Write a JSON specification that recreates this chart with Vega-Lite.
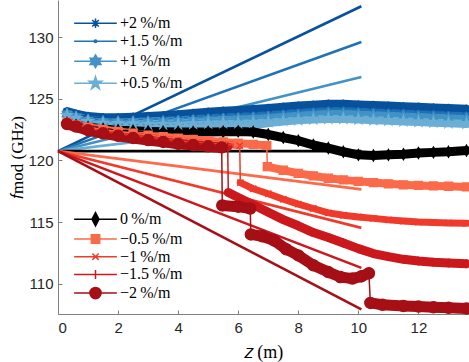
{
"$schema":"https://vega.github.io/schema/vega-lite/v6.json",
"width":410,"height":314,
"autosize":{"type":"none"},
"padding":{"left":58,"top":0,"right":1,"bottom":48},
"background":"white",
"config":{"view":{"stroke":null},
"axis":{"grid":false,"domainColor":"#808080","tickColor":"#808080","tickSize":-4,"labelFont":"Liberation Sans","labelFontSize":15,"labelColor":"#262626","titleFont":"Liberation Serif","titleFontSize":17,"titleFontWeight":"normal","titleColor":"#000000"}},
"datasets":{
"lines":[
{"s":"+2\u2009%/m","z":0,"f":120.75},{"s":"+2\u2009%/m","z":10.1,"f":132.49},
{"s":"+1.5\u2009%/m","z":0,"f":120.75},{"s":"+1.5\u2009%/m","z":10.1,"f":129.59},
{"s":"+1\u2009%/m","z":0,"f":120.75},{"s":"+1\u2009%/m","z":10.1,"f":126.76},
{"s":"+0.5\u2009%/m","z":0,"f":120.75},{"s":"+0.5\u2009%/m","z":10.1,"f":123.7},
{"s":"0\u2009%/m","z":0,"f":120.75},{"s":"0\u2009%/m","z":10.1,"f":120.75},
{"s":"\u22120.5\u2009%/m","z":0,"f":120.75},{"s":"\u22120.5\u2009%/m","z":10.1,"f":117.65},
{"s":"\u22121\u2009%/m","z":0,"f":120.75},{"s":"\u22121\u2009%/m","z":10.1,"f":114.53},
{"s":"\u22121.5\u2009%/m","z":0,"f":120.75},{"s":"\u22121.5\u2009%/m","z":10.1,"f":111.29},
{"s":"\u22122\u2009%/m","z":0,"f":120.75},{"s":"\u22122\u2009%/m","z":10.1,"f":107.92}
],
"curves":[
{"s":"+2\u2009%/m","g":"a","z":0.3,"f":123.95},{"s":"+2\u2009%/m","g":"a","z":0.6,"f":123.75},{"s":"+2\u2009%/m","g":"a","z":1,"f":123.55},{"s":"+2\u2009%/m","g":"a","z":1.5,"f":123.45},{"s":"+2\u2009%/m","g":"a","z":2,"f":123.45},{"s":"+2\u2009%/m","g":"a","z":2.5,"f":123.5},{"s":"+2\u2009%/m","g":"a","z":3,"f":123.55},{"s":"+2\u2009%/m","g":"a","z":3.5,"f":123.62},{"s":"+2\u2009%/m","g":"a","z":4,"f":123.7},{"s":"+2\u2009%/m","g":"a","z":4.5,"f":123.8},{"s":"+2\u2009%/m","g":"a","z":5,"f":123.9},{"s":"+2\u2009%/m","g":"a","z":5.5,"f":123.98},{"s":"+2\u2009%/m","g":"a","z":6,"f":124.05},{"s":"+2\u2009%/m","g":"a","z":6.5,"f":124.12},{"s":"+2\u2009%/m","g":"a","z":7,"f":124.2},{"s":"+2\u2009%/m","g":"a","z":7.5,"f":124.3},{"s":"+2\u2009%/m","g":"a","z":8,"f":124.4},{"s":"+2\u2009%/m","g":"a","z":8.5,"f":124.48},{"s":"+2\u2009%/m","g":"a","z":9,"f":124.55},{"s":"+2\u2009%/m","g":"a","z":9.5,"f":124.55},{"s":"+2\u2009%/m","g":"a","z":10,"f":124.5},{"s":"+2\u2009%/m","g":"a","z":10.5,"f":124.45},{"s":"+2\u2009%/m","g":"a","z":11,"f":124.4},{"s":"+2\u2009%/m","g":"a","z":11.5,"f":124.35},{"s":"+2\u2009%/m","g":"a","z":12,"f":124.3},{"s":"+2\u2009%/m","g":"a","z":12.5,"f":124.25},{"s":"+2\u2009%/m","g":"a","z":13,"f":124.2},{"s":"+2\u2009%/m","g":"a","z":13.6,"f":124.15},
{"s":"+1.5\u2009%/m","g":"a","z":0.3,"f":123.85},{"s":"+1.5\u2009%/m","g":"a","z":0.6,"f":123.63},{"s":"+1.5\u2009%/m","g":"a","z":1,"f":123.4},{"s":"+1.5\u2009%/m","g":"a","z":1.5,"f":123.3},{"s":"+1.5\u2009%/m","g":"a","z":2,"f":123.28},{"s":"+1.5\u2009%/m","g":"a","z":2.5,"f":123.3},{"s":"+1.5\u2009%/m","g":"a","z":3,"f":123.33},{"s":"+1.5\u2009%/m","g":"a","z":3.5,"f":123.37},{"s":"+1.5\u2009%/m","g":"a","z":4,"f":123.42},{"s":"+1.5\u2009%/m","g":"a","z":4.5,"f":123.5},{"s":"+1.5\u2009%/m","g":"a","z":5,"f":123.58},{"s":"+1.5\u2009%/m","g":"a","z":5.5,"f":123.64},{"s":"+1.5\u2009%/m","g":"a","z":6,"f":123.7},{"s":"+1.5\u2009%/m","g":"a","z":6.5,"f":123.75},{"s":"+1.5\u2009%/m","g":"a","z":7,"f":123.82},{"s":"+1.5\u2009%/m","g":"a","z":7.5,"f":123.9},{"s":"+1.5\u2009%/m","g":"a","z":8,"f":124.0},{"s":"+1.5\u2009%/m","g":"a","z":8.5,"f":124.08},{"s":"+1.5\u2009%/m","g":"a","z":9,"f":124.15},{"s":"+1.5\u2009%/m","g":"a","z":9.5,"f":124.15},{"s":"+1.5\u2009%/m","g":"a","z":10,"f":124.1},{"s":"+1.5\u2009%/m","g":"a","z":10.5,"f":124.05},{"s":"+1.5\u2009%/m","g":"a","z":11,"f":124.0},{"s":"+1.5\u2009%/m","g":"a","z":11.5,"f":123.95},{"s":"+1.5\u2009%/m","g":"a","z":12,"f":123.9},{"s":"+1.5\u2009%/m","g":"a","z":12.5,"f":123.85},{"s":"+1.5\u2009%/m","g":"a","z":13,"f":123.8},{"s":"+1.5\u2009%/m","g":"a","z":13.6,"f":123.75},
{"s":"+1\u2009%/m","g":"a","z":0.3,"f":123.75},{"s":"+1\u2009%/m","g":"a","z":0.6,"f":123.53},{"s":"+1\u2009%/m","g":"a","z":1,"f":123.27},{"s":"+1\u2009%/m","g":"a","z":1.5,"f":123.15},{"s":"+1\u2009%/m","g":"a","z":2,"f":123.13},{"s":"+1\u2009%/m","g":"a","z":2.5,"f":123.13},{"s":"+1\u2009%/m","g":"a","z":3,"f":123.13},{"s":"+1\u2009%/m","g":"a","z":3.5,"f":123.15},{"s":"+1\u2009%/m","g":"a","z":4,"f":123.18},{"s":"+1\u2009%/m","g":"a","z":4.5,"f":123.23},{"s":"+1\u2009%/m","g":"a","z":5,"f":123.28},{"s":"+1\u2009%/m","g":"a","z":5.5,"f":123.32},{"s":"+1\u2009%/m","g":"a","z":6,"f":123.35},{"s":"+1\u2009%/m","g":"a","z":6.5,"f":123.4},{"s":"+1\u2009%/m","g":"a","z":7,"f":123.45},{"s":"+1\u2009%/m","g":"a","z":7.5,"f":123.53},{"s":"+1\u2009%/m","g":"a","z":8,"f":123.6},{"s":"+1\u2009%/m","g":"a","z":8.5,"f":123.68},{"s":"+1\u2009%/m","g":"a","z":9,"f":123.75},{"s":"+1\u2009%/m","g":"a","z":9.5,"f":123.75},{"s":"+1\u2009%/m","g":"a","z":10,"f":123.7},{"s":"+1\u2009%/m","g":"a","z":10.5,"f":123.65},{"s":"+1\u2009%/m","g":"a","z":11,"f":123.6},{"s":"+1\u2009%/m","g":"a","z":11.5,"f":123.55},{"s":"+1\u2009%/m","g":"a","z":12,"f":123.5},{"s":"+1\u2009%/m","g":"a","z":12.5,"f":123.45},{"s":"+1\u2009%/m","g":"a","z":13,"f":123.4},{"s":"+1\u2009%/m","g":"a","z":13.6,"f":123.35},
{"s":"+0.5\u2009%/m","g":"a","z":0.3,"f":123.65},{"s":"+0.5\u2009%/m","g":"a","z":0.6,"f":123.42},{"s":"+0.5\u2009%/m","g":"a","z":1,"f":123.17},{"s":"+0.5\u2009%/m","g":"a","z":1.5,"f":123.03},{"s":"+0.5\u2009%/m","g":"a","z":2,"f":123.0},{"s":"+0.5\u2009%/m","g":"a","z":2.5,"f":122.98},{"s":"+0.5\u2009%/m","g":"a","z":3,"f":122.95},{"s":"+0.5\u2009%/m","g":"a","z":3.5,"f":122.94},{"s":"+0.5\u2009%/m","g":"a","z":4,"f":122.95},{"s":"+0.5\u2009%/m","g":"a","z":4.5,"f":122.98},{"s":"+0.5\u2009%/m","g":"a","z":5,"f":123.02},{"s":"+0.5\u2009%/m","g":"a","z":5.5,"f":123.04},{"s":"+0.5\u2009%/m","g":"a","z":6,"f":123.05},{"s":"+0.5\u2009%/m","g":"a","z":6.5,"f":123.1},{"s":"+0.5\u2009%/m","g":"a","z":7,"f":123.15},{"s":"+0.5\u2009%/m","g":"a","z":7.5,"f":123.22},{"s":"+0.5\u2009%/m","g":"a","z":8,"f":123.3},{"s":"+0.5\u2009%/m","g":"a","z":8.5,"f":123.36},{"s":"+0.5\u2009%/m","g":"a","z":9,"f":123.4},{"s":"+0.5\u2009%/m","g":"a","z":9.5,"f":123.4},{"s":"+0.5\u2009%/m","g":"a","z":10,"f":123.35},{"s":"+0.5\u2009%/m","g":"a","z":10.5,"f":123.3},{"s":"+0.5\u2009%/m","g":"a","z":11,"f":123.25},{"s":"+0.5\u2009%/m","g":"a","z":11.5,"f":123.2},{"s":"+0.5\u2009%/m","g":"a","z":12,"f":123.15},{"s":"+0.5\u2009%/m","g":"a","z":12.5,"f":123.1},{"s":"+0.5\u2009%/m","g":"a","z":13,"f":123.05},{"s":"+0.5\u2009%/m","g":"a","z":13.6,"f":123.0},
{"s":"0\u2009%/m","g":"a","z":0.3,"f":123.05},{"s":"0\u2009%/m","g":"a","z":0.6,"f":122.85},{"s":"0\u2009%/m","g":"a","z":1,"f":122.7},{"s":"0\u2009%/m","g":"a","z":1.5,"f":122.55},{"s":"0\u2009%/m","g":"a","z":2,"f":122.45},{"s":"0\u2009%/m","g":"a","z":2.5,"f":122.4},{"s":"0\u2009%/m","g":"a","z":3,"f":122.35},{"s":"0\u2009%/m","g":"a","z":3.5,"f":122.32},{"s":"0\u2009%/m","g":"a","z":4,"f":122.3},{"s":"0\u2009%/m","g":"a","z":4.5,"f":122.3},{"s":"0\u2009%/m","g":"a","z":5,"f":122.3},{"s":"0\u2009%/m","g":"a","z":5.5,"f":122.32},{"s":"0\u2009%/m","g":"a","z":6,"f":122.35},{"s":"0\u2009%/m","g":"a","z":6.5,"f":122.3},{"s":"0\u2009%/m","g":"a","z":7,"f":122.1},{"s":"0\u2009%/m","g":"a","z":7.5,"f":121.85},{"s":"0\u2009%/m","g":"a","z":8,"f":121.6},{"s":"0\u2009%/m","g":"a","z":8.5,"f":121.25},{"s":"0\u2009%/m","g":"a","z":9,"f":121.0},{"s":"0\u2009%/m","g":"a","z":9.5,"f":120.7},{"s":"0\u2009%/m","g":"a","z":10,"f":120.45},{"s":"0\u2009%/m","g":"a","z":10.5,"f":120.4},{"s":"0\u2009%/m","g":"a","z":11,"f":120.45},{"s":"0\u2009%/m","g":"a","z":11.5,"f":120.5},{"s":"0\u2009%/m","g":"a","z":12,"f":120.6},{"s":"0\u2009%/m","g":"a","z":12.5,"f":120.65},{"s":"0\u2009%/m","g":"a","z":13,"f":120.7},{"s":"0\u2009%/m","g":"a","z":13.6,"f":120.8},
{"s":"\u22120.5\u2009%/m","g":"a","z":0.3,"f":123.1},{"s":"\u22120.5\u2009%/m","g":"a","z":0.6,"f":122.9},{"s":"\u22120.5\u2009%/m","g":"a","z":1,"f":122.7},{"s":"\u22120.5\u2009%/m","g":"a","z":1.5,"f":122.5},{"s":"\u22120.5\u2009%/m","g":"a","z":2,"f":122.35},{"s":"\u22120.5\u2009%/m","g":"a","z":2.5,"f":122.2},{"s":"\u22120.5\u2009%/m","g":"a","z":3,"f":122.05},{"s":"\u22120.5\u2009%/m","g":"a","z":3.5,"f":121.92},{"s":"\u22120.5\u2009%/m","g":"a","z":4,"f":121.8},{"s":"\u22120.5\u2009%/m","g":"a","z":4.5,"f":121.7},{"s":"\u22120.5\u2009%/m","g":"a","z":5,"f":121.6},{"s":"\u22120.5\u2009%/m","g":"a","z":5.5,"f":121.5},{"s":"\u22120.5\u2009%/m","g":"a","z":6,"f":121.4},{"s":"\u22120.5\u2009%/m","g":"a","z":6.5,"f":121.3},{"s":"\u22120.5\u2009%/m","g":"a","z":6.95,"f":121.2},
{"s":"\u22120.5\u2009%/m","g":"b","z":6.97,"f":119.5},{"s":"\u22120.5\u2009%/m","g":"b","z":7.5,"f":119.2},{"s":"\u22120.5\u2009%/m","g":"b","z":8,"f":118.95},{"s":"\u22120.5\u2009%/m","g":"b","z":8.5,"f":118.75},{"s":"\u22120.5\u2009%/m","g":"b","z":9,"f":118.55},{"s":"\u22120.5\u2009%/m","g":"b","z":9.5,"f":118.42},{"s":"\u22120.5\u2009%/m","g":"b","z":10,"f":118.3},{"s":"\u22120.5\u2009%/m","g":"b","z":10.5,"f":118.2},{"s":"\u22120.5\u2009%/m","g":"b","z":11,"f":118.1},{"s":"\u22120.5\u2009%/m","g":"b","z":11.5,"f":118.02},{"s":"\u22120.5\u2009%/m","g":"b","z":12,"f":117.97},{"s":"\u22120.5\u2009%/m","g":"b","z":12.5,"f":117.93},{"s":"\u22120.5\u2009%/m","g":"b","z":13,"f":117.9},{"s":"\u22120.5\u2009%/m","g":"b","z":13.6,"f":117.85},
{"s":"\u22121\u2009%/m","g":"a","z":0.3,"f":123.05},{"s":"\u22121\u2009%/m","g":"a","z":0.6,"f":122.85},{"s":"\u22121\u2009%/m","g":"a","z":1,"f":122.6},{"s":"\u22121\u2009%/m","g":"a","z":1.5,"f":122.4},{"s":"\u22121\u2009%/m","g":"a","z":2,"f":122.2},{"s":"\u22121\u2009%/m","g":"a","z":2.5,"f":122.05},{"s":"\u22121\u2009%/m","g":"a","z":3,"f":121.9},{"s":"\u22121\u2009%/m","g":"a","z":3.5,"f":121.75},{"s":"\u22121\u2009%/m","g":"a","z":4,"f":121.6},{"s":"\u22121\u2009%/m","g":"a","z":4.5,"f":121.5},{"s":"\u22121\u2009%/m","g":"a","z":5,"f":121.4},{"s":"\u22121\u2009%/m","g":"a","z":5.5,"f":121.3},{"s":"\u22121\u2009%/m","g":"a","z":6.05,"f":121.2},
{"s":"\u22121\u2009%/m","g":"b","z":6.07,"f":118.2},{"s":"\u22121\u2009%/m","g":"b","z":6.5,"f":117.7},{"s":"\u22121\u2009%/m","g":"b","z":7,"f":117.3},{"s":"\u22121\u2009%/m","g":"b","z":7.5,"f":116.85},{"s":"\u22121\u2009%/m","g":"b","z":8,"f":116.45},{"s":"\u22121\u2009%/m","g":"b","z":8.5,"f":116.1},{"s":"\u22121\u2009%/m","g":"b","z":9,"f":115.75},{"s":"\u22121\u2009%/m","g":"b","z":9.5,"f":115.55},{"s":"\u22121\u2009%/m","g":"b","z":10,"f":115.42},{"s":"\u22121\u2009%/m","g":"b","z":10.5,"f":115.3},{"s":"\u22121\u2009%/m","g":"b","z":11,"f":115.18},{"s":"\u22121\u2009%/m","g":"b","z":11.5,"f":115.08},{"s":"\u22121\u2009%/m","g":"b","z":12,"f":115.0},{"s":"\u22121\u2009%/m","g":"b","z":12.5,"f":114.97},{"s":"\u22121\u2009%/m","g":"b","z":13,"f":114.93},{"s":"\u22121\u2009%/m","g":"b","z":13.6,"f":114.9},
{"s":"\u22121.5\u2009%/m","g":"a","z":0.3,"f":123.0},{"s":"\u22121.5\u2009%/m","g":"a","z":0.6,"f":122.8},{"s":"\u22121.5\u2009%/m","g":"a","z":1,"f":122.5},{"s":"\u22121.5\u2009%/m","g":"a","z":1.5,"f":122.3},{"s":"\u22121.5\u2009%/m","g":"a","z":2,"f":122.1},{"s":"\u22121.5\u2009%/m","g":"a","z":2.5,"f":121.92},{"s":"\u22121.5\u2009%/m","g":"a","z":3,"f":121.75},{"s":"\u22121.5\u2009%/m","g":"a","z":3.5,"f":121.6},{"s":"\u22121.5\u2009%/m","g":"a","z":4,"f":121.45},{"s":"\u22121.5\u2009%/m","g":"a","z":4.5,"f":121.35},{"s":"\u22121.5\u2009%/m","g":"a","z":5,"f":121.25},{"s":"\u22121.5\u2009%/m","g":"a","z":5.5,"f":121.15},{"s":"\u22121.5\u2009%/m","g":"a","z":5.65,"f":121.1},
{"s":"\u22121.5\u2009%/m","g":"b","z":5.67,"f":117.4},{"s":"\u22121.5\u2009%/m","g":"b","z":6,"f":117.0},{"s":"\u22121.5\u2009%/m","g":"b","z":6.5,"f":116.4},{"s":"\u22121.5\u2009%/m","g":"b","z":7,"f":115.8},{"s":"\u22121.5\u2009%/m","g":"b","z":7.5,"f":115.2},{"s":"\u22121.5\u2009%/m","g":"b","z":8,"f":114.7},{"s":"\u22121.5\u2009%/m","g":"b","z":8.5,"f":114.15},{"s":"\u22121.5\u2009%/m","g":"b","z":9,"f":113.75},{"s":"\u22121.5\u2009%/m","g":"b","z":9.5,"f":113.3},{"s":"\u22121.5\u2009%/m","g":"b","z":10,"f":112.85},{"s":"\u22121.5\u2009%/m","g":"b","z":10.5,"f":112.45},{"s":"\u22121.5\u2009%/m","g":"b","z":11,"f":112.2},{"s":"\u22121.5\u2009%/m","g":"b","z":11.5,"f":111.98},{"s":"\u22121.5\u2009%/m","g":"b","z":12,"f":111.85},{"s":"\u22121.5\u2009%/m","g":"b","z":12.5,"f":111.75},{"s":"\u22121.5\u2009%/m","g":"b","z":13,"f":111.68},{"s":"\u22121.5\u2009%/m","g":"b","z":13.6,"f":111.62},
{"s":"\u22122\u2009%/m","g":"a","z":0.3,"f":122.95},{"s":"\u22122\u2009%/m","g":"a","z":0.6,"f":122.75},{"s":"\u22122\u2009%/m","g":"a","z":1,"f":122.45},{"s":"\u22122\u2009%/m","g":"a","z":1.5,"f":122.2},{"s":"\u22122\u2009%/m","g":"a","z":2,"f":122.0},{"s":"\u22122\u2009%/m","g":"a","z":2.5,"f":121.82},{"s":"\u22122\u2009%/m","g":"a","z":3,"f":121.65},{"s":"\u22122\u2009%/m","g":"a","z":3.5,"f":121.5},{"s":"\u22122\u2009%/m","g":"a","z":4,"f":121.35},{"s":"\u22122\u2009%/m","g":"a","z":4.5,"f":121.25},{"s":"\u22122\u2009%/m","g":"a","z":5,"f":121.15},{"s":"\u22122\u2009%/m","g":"a","z":5.45,"f":121.05},
{"s":"\u22122\u2009%/m","g":"b","z":5.47,"f":116.35},{"s":"\u22122\u2009%/m","g":"b","z":6,"f":116.25},{"s":"\u22122\u2009%/m","g":"b","z":6.4,"f":116.1},
{"s":"\u22122\u2009%/m","g":"c","z":6.42,"f":114.0},{"s":"\u22122\u2009%/m","g":"c","z":6.8,"f":113.85},{"s":"\u22122\u2009%/m","g":"c","z":7.2,"f":113.5},{"s":"\u22122\u2009%/m","g":"c","z":7.6,"f":112.8},{"s":"\u22122\u2009%/m","g":"c","z":8,"f":112.3},{"s":"\u22122\u2009%/m","g":"c","z":8.5,"f":111.5},{"s":"\u22122\u2009%/m","g":"c","z":9,"f":110.95},{"s":"\u22122\u2009%/m","g":"c","z":9.4,"f":110.55},{"s":"\u22122\u2009%/m","g":"c","z":9.8,"f":110.42},{"s":"\u22122\u2009%/m","g":"c","z":10.1,"f":110.6},{"s":"\u22122\u2009%/m","g":"c","z":10.35,"f":110.85},
{"s":"\u22122\u2009%/m","g":"d","z":10.4,"f":108.45},{"s":"\u22122\u2009%/m","g":"d","z":10.8,"f":108.3},{"s":"\u22122\u2009%/m","g":"d","z":11.5,"f":108.2},{"s":"\u22122\u2009%/m","g":"d","z":12,"f":108.15},{"s":"\u22122\u2009%/m","g":"d","z":12.5,"f":108.1},{"s":"\u22122\u2009%/m","g":"d","z":13,"f":108.05},{"s":"\u22122\u2009%/m","g":"d","z":13.6,"f":108.0}
]},
"encoding":{
"x":{"field":"z","type":"quantitative","scale":{"domain":[0,13.65],"nice":false,"zero":false},"axis":{"values":[0,2,4,6,8,10,12],"title":"𝑧 (m)","labelPadding":10,"titleX":205,"titleY":38,"titleBaseline":"middle","titleFontSize":18}},
"y":{"field":"f","type":"quantitative","scale":{"domain":[107.55,133],"nice":false,"zero":false},"axis":{"values":[110,115,120,125,130],"title":"𝑓mod (GHz)","labelPadding":9,"titleX":-41,"titleY":157,"titleAlign":"center","titleBaseline":"middle"}}
},
"layer":[
{"data":{"name":"lines"},"mark":{"type":"line","strokeWidth":2.6},
"encoding":{"color":{"field":"s","type":"nominal","legend":null,"scale":{"domain":["+2\u2009%/m","+1.5\u2009%/m","+1\u2009%/m","+0.5\u2009%/m","0\u2009%/m","\u22120.5\u2009%/m","\u22121\u2009%/m","\u22121.5\u2009%/m","\u22122\u2009%/m"],"range":["#08519c","#2171b5","#4292c6","#6baed6","#000000","#fb6a4a","#ef3b2c","#cb181d","#a50f15"]}}}},
{"data":{"name":"curves"},"mark":{"type":"line","strokeCap":"round","strokeJoin":"round"},
"encoding":{"color":{"field":"s","type":"nominal","legend":null,"scale":{"domain":["+2\u2009%/m","+1.5\u2009%/m","+1\u2009%/m","+0.5\u2009%/m","0\u2009%/m","\u22120.5\u2009%/m","\u22121\u2009%/m","\u22121.5\u2009%/m","\u22122\u2009%/m"],"range":["#08519c","#2171b5","#4292c6","#6baed6","#000000","#fb6a4a","#ef3b2c","#cb181d","#a50f15"]}},
"detail":{"field":"g","type":"nominal"},
"strokeWidth":{"condition":[{"test":"datum.s === '+1.5\u2009%/m'","value":4},{"test":"datum.s === '\u22122\u2009%/m'","value":11},{"test":"datum.s === '\u22121\u2009%/m'","value":7},{"test":"datum.s === '\u22120.5\u2009%/m'","value":8}],"value":9}}},
{"data":{"name":"curves"},"mark":{"type":"line","strokeWidth":1.5},
"encoding":{"color":{"field":"s","type":"nominal","legend":null,"scale":{"domain":["+2\u2009%/m","+1.5\u2009%/m","+1\u2009%/m","+0.5\u2009%/m","0\u2009%/m","\u22120.5\u2009%/m","\u22121\u2009%/m","\u22121.5\u2009%/m","\u22122\u2009%/m"],"range":["#08519c","#2171b5","#4292c6","#6baed6","#000000","#fb6a4a","#ef3b2c","#cb181d","#a50f15"]}}}},
{"data":{"name":"curves"},"mark":{"type":"point","filled":true,"size":110,"strokeWidth":1.5,"opacity":1},
"encoding":{
"fill":{"field":"s","type":"nominal","legend":null,"scale":{"domain":["+2\u2009%/m","+1.5\u2009%/m","+1\u2009%/m","+0.5\u2009%/m","0\u2009%/m","\u22120.5\u2009%/m","\u22121\u2009%/m","\u22121.5\u2009%/m","\u22122\u2009%/m"],"range":["#08519c","#2171b5","#4292c6","#6baed6","#000000","#fb6a4a","#ef3b2c","#cb181d","#a50f15"]}},
"stroke":{"field":"s","type":"nominal","legend":null,"scale":{"domain":["+2\u2009%/m","+1.5\u2009%/m","+1\u2009%/m","+0.5\u2009%/m","0\u2009%/m","\u22120.5\u2009%/m","\u22121\u2009%/m","\u22121.5\u2009%/m","\u22122\u2009%/m"],"range":["#08519c","#2171b5","#4292c6","#6baed6","#000000","#fb6a4a","#ef3b2c","#cb181d","#a50f15"]}},
"shape":{"field":"s","type":"nominal","legend":null,"scale":{"domain":["+2\u2009%/m","+1.5\u2009%/m","+1\u2009%/m","+0.5\u2009%/m","0\u2009%/m","\u22120.5\u2009%/m","\u22121\u2009%/m","\u22121.5\u2009%/m","\u22122\u2009%/m"],"range":[
"M0,-0.9V0.9M-0.9,0H0.9M-0.64,-0.64L0.64,0.64M-0.64,0.64L0.64,-0.64",
"M-0.35,0A0.35,0.35,0,1,0,0.35,0A0.35,0.35,0,1,0,-0.35,0Z",
"M0,-1L0.29,-0.5L0.87,-0.5L0.58,0L0.87,0.5L0.29,0.5L0,1L-0.29,0.5L-0.87,0.5L-0.58,0L-0.87,-0.5L-0.29,-0.5Z",
"M0,-1L0.224,-0.309L0.951,-0.309L0.363,0.118L0.588,0.809L0,0.382L-0.588,0.809L-0.363,0.118L-0.951,-0.309L-0.224,-0.309Z",
"M0,-1L0.6,0L0,1L-0.6,0Z",
"M-0.75,-0.75H0.75V0.75H-0.75Z",
"M-0.6,-0.6L0.6,0.6M-0.6,0.6L0.6,-0.6",
"M-0.85,0H0.85M0,-0.85V0.85",
"M-1.05,0A1.05,1.05,0,1,0,1.05,0A1.05,1.05,0,1,0,-1.05,0Z"]}}}},
{"data":{"name":"lines"},"transform":[{"filter":{"field":"s","oneOf":["+2\u2009%/m","+1.5\u2009%/m","+1\u2009%/m","+0.5\u2009%/m"]}}],
"mark":{"type":"point","filled":true,"opacity":0,"size":196,"strokeWidth":1.5},
"encoding":{
"fill":{"field":"s","type":"nominal","scale":{"domain":["+2\u2009%/m","+1.5\u2009%/m","+1\u2009%/m","+0.5\u2009%/m"],"range":["#08519c","#2171b5","#4292c6","#6baed6"]},"legend":{"orient":"none","legendX":29.5,"legendY":15.3,"title":null,"rowPadding":2,"labelOffset":16.5,"symbolOffset":0,"padding":0,"symbolSize":196,"symbolStrokeWidth":1.5,"symbolOpacity":1,"labelFont":"Liberation Serif","labelFontSize":16,"labelColor":"#000000","encode":{"symbols":{"update":{"opacity":{"value":1}}}}}},
"stroke":{"field":"s","type":"nominal","scale":{"domain":["+2\u2009%/m","+1.5\u2009%/m","+1\u2009%/m","+0.5\u2009%/m"],"range":["#08519c","#2171b5","#4292c6","#6baed6"]},"legend":{"orient":"none","legendX":29.5,"legendY":15.3,"title":null,"rowPadding":2,"labelOffset":16.5,"symbolOffset":0,"padding":0,"symbolSize":196,"symbolStrokeWidth":1.5,"symbolOpacity":1,"labelFont":"Liberation Serif","labelFontSize":16,"labelColor":"#000000","encode":{"symbols":{"update":{"opacity":{"value":1}}}}}},
"shape":{"field":"s","type":"nominal","scale":{"domain":["+2\u2009%/m","+1.5\u2009%/m","+1\u2009%/m","+0.5\u2009%/m"],"range":[
"M-3.05,0H3.05M0,-0.67V0.67M-0.67,0H0.67M-0.47,-0.47L0.47,0.47M-0.47,0.47L0.47,-0.47",
"M-3.05,0H3.05M-0.18,0A0.18,0.18,0,1,0,0.18,0A0.18,0.18,0,1,0,-0.18,0Z",
"M-3.05,0H3.05M0,-0.9L0.26,-0.45L0.78,-0.45L0.52,0L0.78,0.45L0.26,0.45L0,0.9L-0.26,0.45L-0.78,0.45L-0.52,0L-0.78,-0.45L-0.26,-0.45Z",
"M-3.05,0H3.05M0,-0.95L0.213,-0.294L0.904,-0.294L0.345,0.112L0.558,0.769L0,0.363L-0.558,0.769L-0.345,0.112L-0.904,-0.294L-0.213,-0.294Z"]},"legend":{"orient":"none","legendX":29.5,"legendY":15.3,"title":null,"rowPadding":2,"labelOffset":16.5,"symbolOffset":0,"padding":0,"symbolSize":196,"symbolStrokeWidth":1.5,"symbolOpacity":1,"labelFont":"Liberation Serif","labelFontSize":16,"labelColor":"#000000","encode":{"symbols":{"update":{"opacity":{"value":1}}}}}}}},
{"data":{"name":"lines"},"transform":[{"filter":{"field":"s","oneOf":["0\u2009%/m","\u22120.5\u2009%/m","\u22121\u2009%/m","\u22121.5\u2009%/m","\u22122\u2009%/m"]}}],
"mark":{"type":"point","filled":true,"opacity":0,"size":196,"strokeWidth":1.5},
"encoding":{
"fill":{"field":"s","type":"nominal","scale":{"domain":["0\u2009%/m","\u22120.5\u2009%/m","\u22121\u2009%/m","\u22121.5\u2009%/m","\u22122\u2009%/m"],"range":["#000000","#fb6a4a","#ef3b2c","#cb181d","#a50f15"]},"legend":{"orient":"none","legendX":29.5,"legendY":211.3,"title":null,"rowPadding":1.7,"labelOffset":16.5,"symbolOffset":0,"padding":0,"symbolSize":196,"symbolStrokeWidth":1.5,"symbolOpacity":1,"labelFont":"Liberation Serif","labelFontSize":16,"labelColor":"#000000","encode":{"symbols":{"update":{"opacity":{"value":1}}}}}},
"stroke":{"field":"s","type":"nominal","scale":{"domain":["0\u2009%/m","\u22120.5\u2009%/m","\u22121\u2009%/m","\u22121.5\u2009%/m","\u22122\u2009%/m"],"range":["#000000","#fb6a4a","#ef3b2c","#cb181d","#a50f15"]},"legend":{"orient":"none","legendX":29.5,"legendY":211.3,"title":null,"rowPadding":1.7,"labelOffset":16.5,"symbolOffset":0,"padding":0,"symbolSize":196,"symbolStrokeWidth":1.5,"symbolOpacity":1,"labelFont":"Liberation Serif","labelFontSize":16,"labelColor":"#000000","encode":{"symbols":{"update":{"opacity":{"value":1}}}}}},
"shape":{"field":"s","type":"nominal","scale":{"domain":["0\u2009%/m","\u22120.5\u2009%/m","\u22121\u2009%/m","\u22121.5\u2009%/m","\u22122\u2009%/m"],"range":[
"M-3.05,0H3.05M0,-0.95L0.5,0L0,0.95L-0.5,0Z",
"M-3.05,0H3.05M-0.6,-0.6H0.6V0.6H-0.6Z",
"M-3.05,0H3.05M-0.45,-0.45L0.45,0.45M-0.45,0.45L0.45,-0.45",
"M-3.05,0H3.05M-0.64,0H0.64M0,-0.64V0.64",
"M-3.05,0H3.05M-0.8,0A0.8,0.8,0,1,0,0.8,0A0.8,0.8,0,1,0,-0.8,0Z"]},"legend":{"orient":"none","legendX":29.5,"legendY":211.3,"title":null,"rowPadding":1.7,"labelOffset":16.5,"symbolOffset":0,"padding":0,"symbolSize":196,"symbolStrokeWidth":1.5,"symbolOpacity":1,"labelFont":"Liberation Serif","labelFontSize":16,"labelColor":"#000000","encode":{"symbols":{"update":{"opacity":{"value":1}}}}}}}}
],
"resolve":{"scale":{"color":"independent","fill":"independent","stroke":"independent","shape":"independent"}}
}
